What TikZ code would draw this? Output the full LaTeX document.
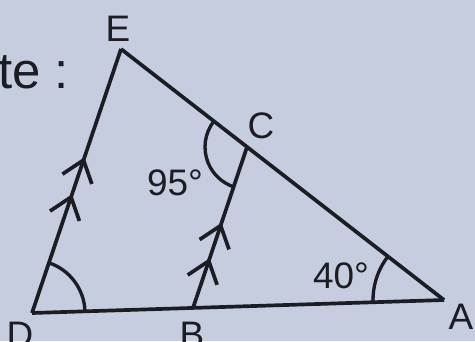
\documentclass[tikz,border=0pt]{standalone}
\usepackage{fontspec}
\setmainfont{Liberation Sans}
\usetikzlibrary{angles,arrows.meta,decorations.markings}
\definecolor{paper}{RGB}{198,205,222}
\definecolor{ink}{RGB}{28,28,36}
\tikzset{
  chev/.tip={Straight Barb[length=4mm,width=6.2mm]},
  side/.style={draw=ink, line width=2.1pt},
  arc/.style={draw=ink, line width=1.9pt},
  lbl/.style={text=ink, font=\fontsize{21}{24}\selectfont, inner sep=0pt},
  par2/.style 2 args={postaction={decorate, decoration={markings,
      mark=at position #1 with {\arrow[ink, line width=2.1pt]{chev}},
      mark=at position #2 with {\arrow[ink, line width=2.1pt]{chev}}}}}
}
\begin{document}
\begin{tikzpicture}[x=0.02cm, y=-0.02cm]
\fill[paper] (0,0) rectangle (475,341);
\useasboundingbox (0,0) rectangle (475,341);
% points
\coordinate (E) at (121,49);
\coordinate (D) at (32,313);
\coordinate (B) at (193,308);
\coordinate (A) at (444,300);
\coordinate (C) at (247,147);
% sides
\draw[side, par2={0.45}{0.59}] (D) -- (E);
\draw[side] (E) -- (A);
\draw[side] (A) -- (D);
\draw[side, par2={0.31}{0.53}] (B) -- (C);
% angles
\pic[arc, angle radius=1.06cm] {angle=A--D--E};
\pic[arc, angle radius=0.84cm] {angle=E--C--B};
\pic[arc, angle radius=1.42cm] {angle=E--A--D};
% labels
\node[lbl] (tE) at (118,29) {E};
\node[lbl] (tC) at (261,126) {C};
\node[lbl] (tA) at (461,317) {A};
\node[lbl] (tB) at (192,335) {B};
\node[lbl] (tD) at (20,335) {D};
\node[lbl] (t95) at (175,183) {95°};
\node[lbl] (t40) at (341,276) {40°};
\node[text=ink, font=\fontsize{29}{32}\selectfont, inner sep=0pt, anchor=base west] (note) at (-2,88) {te :};
\end{tikzpicture}
\end{document}
